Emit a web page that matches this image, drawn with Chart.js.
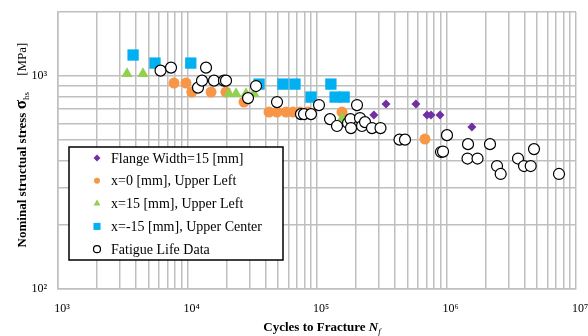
<!DOCTYPE html>
<html>
<head>
<meta charset="utf-8">
<script src="https://cdn.jsdelivr.net/npm/chart.js@4/dist/chart.umd.min.js"></script>
<style>
    body { margin: 0; background: #fff; }
    #wrap { width: 588px; height: 336px; }
</style>
</head>
<body>
<div id="wrap"><canvas id="snChart"></canvas></div>
<script>
// axis decades
const xDecades = [1e3, 1e4, 1e5, 1e6, 1e7];
const yDecades = [1e2, 1e3];
const yMax = 2000;

// Flange Width=15 [mm]
const flangeN = [70000, 275000, 341000, 581000, 707000, 759000, 891000, 1570000];
const flangeS = [663, 656, 739, 739, 656, 656, 656, 576];

// x=0 [mm], Upper Left
const x0N = [7870, 9730, 10800, 15200, 19800, 27300, 42600, 49100, 57600, 65300, 73900, 85200, 156000, 682000];
const x0S = [927, 927, 841, 841, 841, 755, 678, 678, 678, 678, 678, 678, 678, 506];

// x=15 [mm], Upper Left
const x15N = [3410, 4530, 20900, 23700, 28300, 32600, 156000];
const x15S = [1025, 1025, 827, 827, 827, 827, 632];

// x=-15 [mm], Upper Center
const xm15N = [3800, 5610, 10600, 35700, 54600, 67600, 89900, 128000, 138000, 162000];
const xm15S = [1256, 1151, 1151, 917, 917, 917, 797, 917, 797, 797];

// Fatigue Life Data
const fatigueN = [6190, 7460, 13900, 12050, 12940, 16020, 19130, 19830, 29330, 33810, 49110,
    75200, 79400, 89900, 103600, 203700, 126000, 142700, 173600, 181400, 183000, 214800,
    222600, 234900, 265900, 309300, 433700, 478100, 1009000, 907000, 940000, 1466000,
    2167000, 1453000, 1736000, 2455000, 2621000, 3566000, 4740000, 3968000, 4469000, 7390000];
const fatigueS = [1061, 1096, 1096, 883, 952, 952, 952, 952, 788, 898, 755,
    663, 663, 663, 731, 731, 628, 583, 602, 628, 570, 635,
    583, 608, 570, 570, 503, 503, 528, 440, 442, 479,
    479, 410, 410, 378, 347, 410, 454, 378, 378, 347];

const SERIF = "'Liberation Serif', 'Times New Roman', serif";
const GRID = '#BFBFBF';

function toPoints(ns, ss) {
    return ns.map((n, i) => ({ x: n, y: ss[i] }));
}

function minorTicks(decades, max) {
    let ticks = [];
    for (let d of decades) {
        for (let k = 1; k <= 9; k++) {
            if (d * k <= max) ticks.push(d * k);
        }
    }
    return ticks;
}

const xTicks = minorTicks(xDecades, xDecades[xDecades.length - 1]);
const yTicks = minorTicks(yDecades, yMax);

function decadeLabel(value, decades) {
    if (!decades.includes(value)) return '';
    const sup = '⁰¹²³⁴⁵⁶⁷⁸⁹';
    const exp = Math.round(Math.log10(value)).toString();
    return '10' + exp.split('').map(c => sup[+c]).join('');
}

const datasets = [
    { label: 'Flange Width=15 [mm]', data: toPoints(flangeN, flangeS), pointStyle: 'rectRot',
      pointRadius: 4.5, backgroundColor: '#7030A0', borderColor: '#7030A0', borderWidth: 0, order: 5 },
    { label: 'x=0 [mm], Upper Left', data: toPoints(x0N, x0S), pointStyle: 'circle',
      pointRadius: 5.5, backgroundColor: '#F79646', borderColor: '#F79646', borderWidth: 0, order: 4 },
    { label: 'x=15 [mm], Upper Left', data: toPoints(x15N, x15S), pointStyle: 'triangle',
      pointRadius: 6.5, backgroundColor: '#92D050', borderColor: '#92D050', borderWidth: 0, order: 3 },
    { label: 'x=-15 [mm], Upper Center', data: toPoints(xm15N, xm15S), pointStyle: 'rect',
      pointRadius: 8, backgroundColor: '#00B0F0', borderColor: '#00B0F0', borderWidth: 0, order: 2 },
    { label: 'Fatigue Life Data', data: toPoints(fatigueN, fatigueS), pointStyle: 'circle',
      pointRadius: 5.5, backgroundColor: '#FFFFFF', borderColor: '#000000', borderWidth: 1.2, order: 1 }
];

// legend marker sizes, drawn in the box inside the plot
const legendRadius = [3.5, 3, 4, 5, 3.5];

function drawMarker(ctx, style, r, x, y, fill, stroke, bw) {
    ctx.beginPath();
    if (style === 'circle') {
        ctx.arc(x, y, r, 0, Math.PI * 2);
    } else if (style === 'rect') {
        const s = r * Math.SQRT1_2;
        ctx.rect(x - s, y - s, s * 2, s * 2);
    } else if (style === 'rectRot') {
        ctx.moveTo(x, y - r); ctx.lineTo(x + r, y); ctx.lineTo(x, y + r); ctx.lineTo(x - r, y);
        ctx.closePath();
    } else if (style === 'triangle') {
        ctx.moveTo(x, y - r); ctx.lineTo(x + r * 0.866, y + r / 2); ctx.lineTo(x - r * 0.866, y + r / 2);
        ctx.closePath();
    }
    ctx.fillStyle = fill;
    ctx.fill();
    if (bw) {
        ctx.lineWidth = bw;
        ctx.strokeStyle = stroke;
        ctx.stroke();
    }
}

const legendBox = {
    id: 'legendBox',
    afterDatasetsDraw(chart) {
        const ctx = chart.ctx;
        ctx.save();
        ctx.fillStyle = '#FFFFFF';
        ctx.fillRect(69, 147, 214, 113);
        ctx.strokeStyle = '#000000';
        ctx.lineWidth = 1.5;
        ctx.strokeRect(69, 147, 214, 113);
        ctx.font = '14px ' + SERIF;
        ctx.textBaseline = 'middle';
        chart.data.datasets.forEach((ds, i) => {
            const y = 158 + i * 22.8;
            drawMarker(ctx, ds.pointStyle, legendRadius[i], 97, y, ds.backgroundColor, ds.borderColor, ds.borderWidth);
            ctx.fillStyle = '#000000';
            ctx.fillText(ds.label, 111, y + 1);
        });
        ctx.restore();
    }
};

function drawRuns(ctx, runs, x, y) {
    for (let r of runs) {
        ctx.font = r.font;
        ctx.fillText(r.text, x, y + (r.dy || 0));
        x += ctx.measureText(r.text).width;
    }
}

function runsWidth(ctx, runs) {
    let w = 0;
    for (let r of runs) {
        ctx.font = r.font;
        w += ctx.measureText(r.text).width;
    }
    return w;
}

const axisTitles = {
    id: 'axisTitles',
    afterDraw(chart) {
        const ctx = chart.ctx;
        ctx.save();
        ctx.fillStyle = '#000000';
        ctx.textBaseline = 'alphabetic';

        const xRuns = [
            { text: 'Cycles to Fracture ', font: 'bold 13px ' + SERIF },
            { text: 'N', font: 'italic bold 13px ' + SERIF },
            { text: 'f', font: 'italic 9px ' + SERIF, dy: 3 }
        ];
        const xw = runsWidth(ctx, xRuns);
        drawRuns(ctx, xRuns, 322 - xw / 2, 331);

        const yRuns = [
            { text: 'Nominal structual stress ', font: 'bold 13px ' + SERIF },
            { text: 'σ', font: 'bold 17px ' + SERIF },
            { text: 'hs', font: '9px ' + SERIF, dy: 3 },
            { text: '     [MPa]', font: '13px ' + SERIF }
        ];
        const yw = runsWidth(ctx, yRuns);
        ctx.translate(26, 145);
        ctx.rotate(-Math.PI / 2);
        drawRuns(ctx, yRuns, -yw / 2, 0);
        ctx.restore();
    }
};

new Chart(document.getElementById('snChart').getContext('2d'), {
    type: 'scatter',
    data: { datasets: datasets },
    options: {
        responsive: true,
        maintainAspectRatio: false,
        animation: false,
        layout: {
            padding: { top: 12, right: 12, left: 0, bottom: 0 }
        },
        plugins: {
            legend: { display: false },
            tooltip: { enabled: false }
        },
        scales: {
            x: {
                type: 'logarithmic',
                min: xDecades[0],
                max: xDecades[xDecades.length - 1],
                afterBuildTicks: scale => { scale.ticks = xTicks.map(v => ({ value: v })); },
                afterFit: scale => {
                    scale.height = 47;
                    scale.paddingLeft = 0;
                    scale.paddingRight = 0;
                },
                grid: { color: GRID, lineWidth: 1.5, drawTicks: false },
                border: { color: GRID, width: 1.5 },
                ticks: {
                    autoSkip: false,
                    maxRotation: 0,
                    padding: 13,
                    labelOffset: 4,
                    color: '#000000',
                    font: { family: SERIF, size: 12 },
                    callback: value => decadeLabel(value, xDecades)
                }
            },
            y: {
                type: 'logarithmic',
                min: yDecades[0],
                max: yMax,
                afterBuildTicks: scale => { scale.ticks = yTicks.map(v => ({ value: v })); },
                afterFit: scale => {
                    scale.width = 58;
                    scale.paddingTop = 0;
                    scale.paddingBottom = 0;
                },
                grid: { color: GRID, lineWidth: 1.5, drawTicks: false },
                border: { color: GRID, width: 1.5 },
                ticks: {
                    autoSkip: false,
                    padding: 11,
                    color: '#000000',
                    font: { family: SERIF, size: 12 },
                    callback: value => decadeLabel(value, yDecades)
                }
            }
        }
    },
    plugins: [legendBox, axisTitles]
});
</script>
</body>
</html>
